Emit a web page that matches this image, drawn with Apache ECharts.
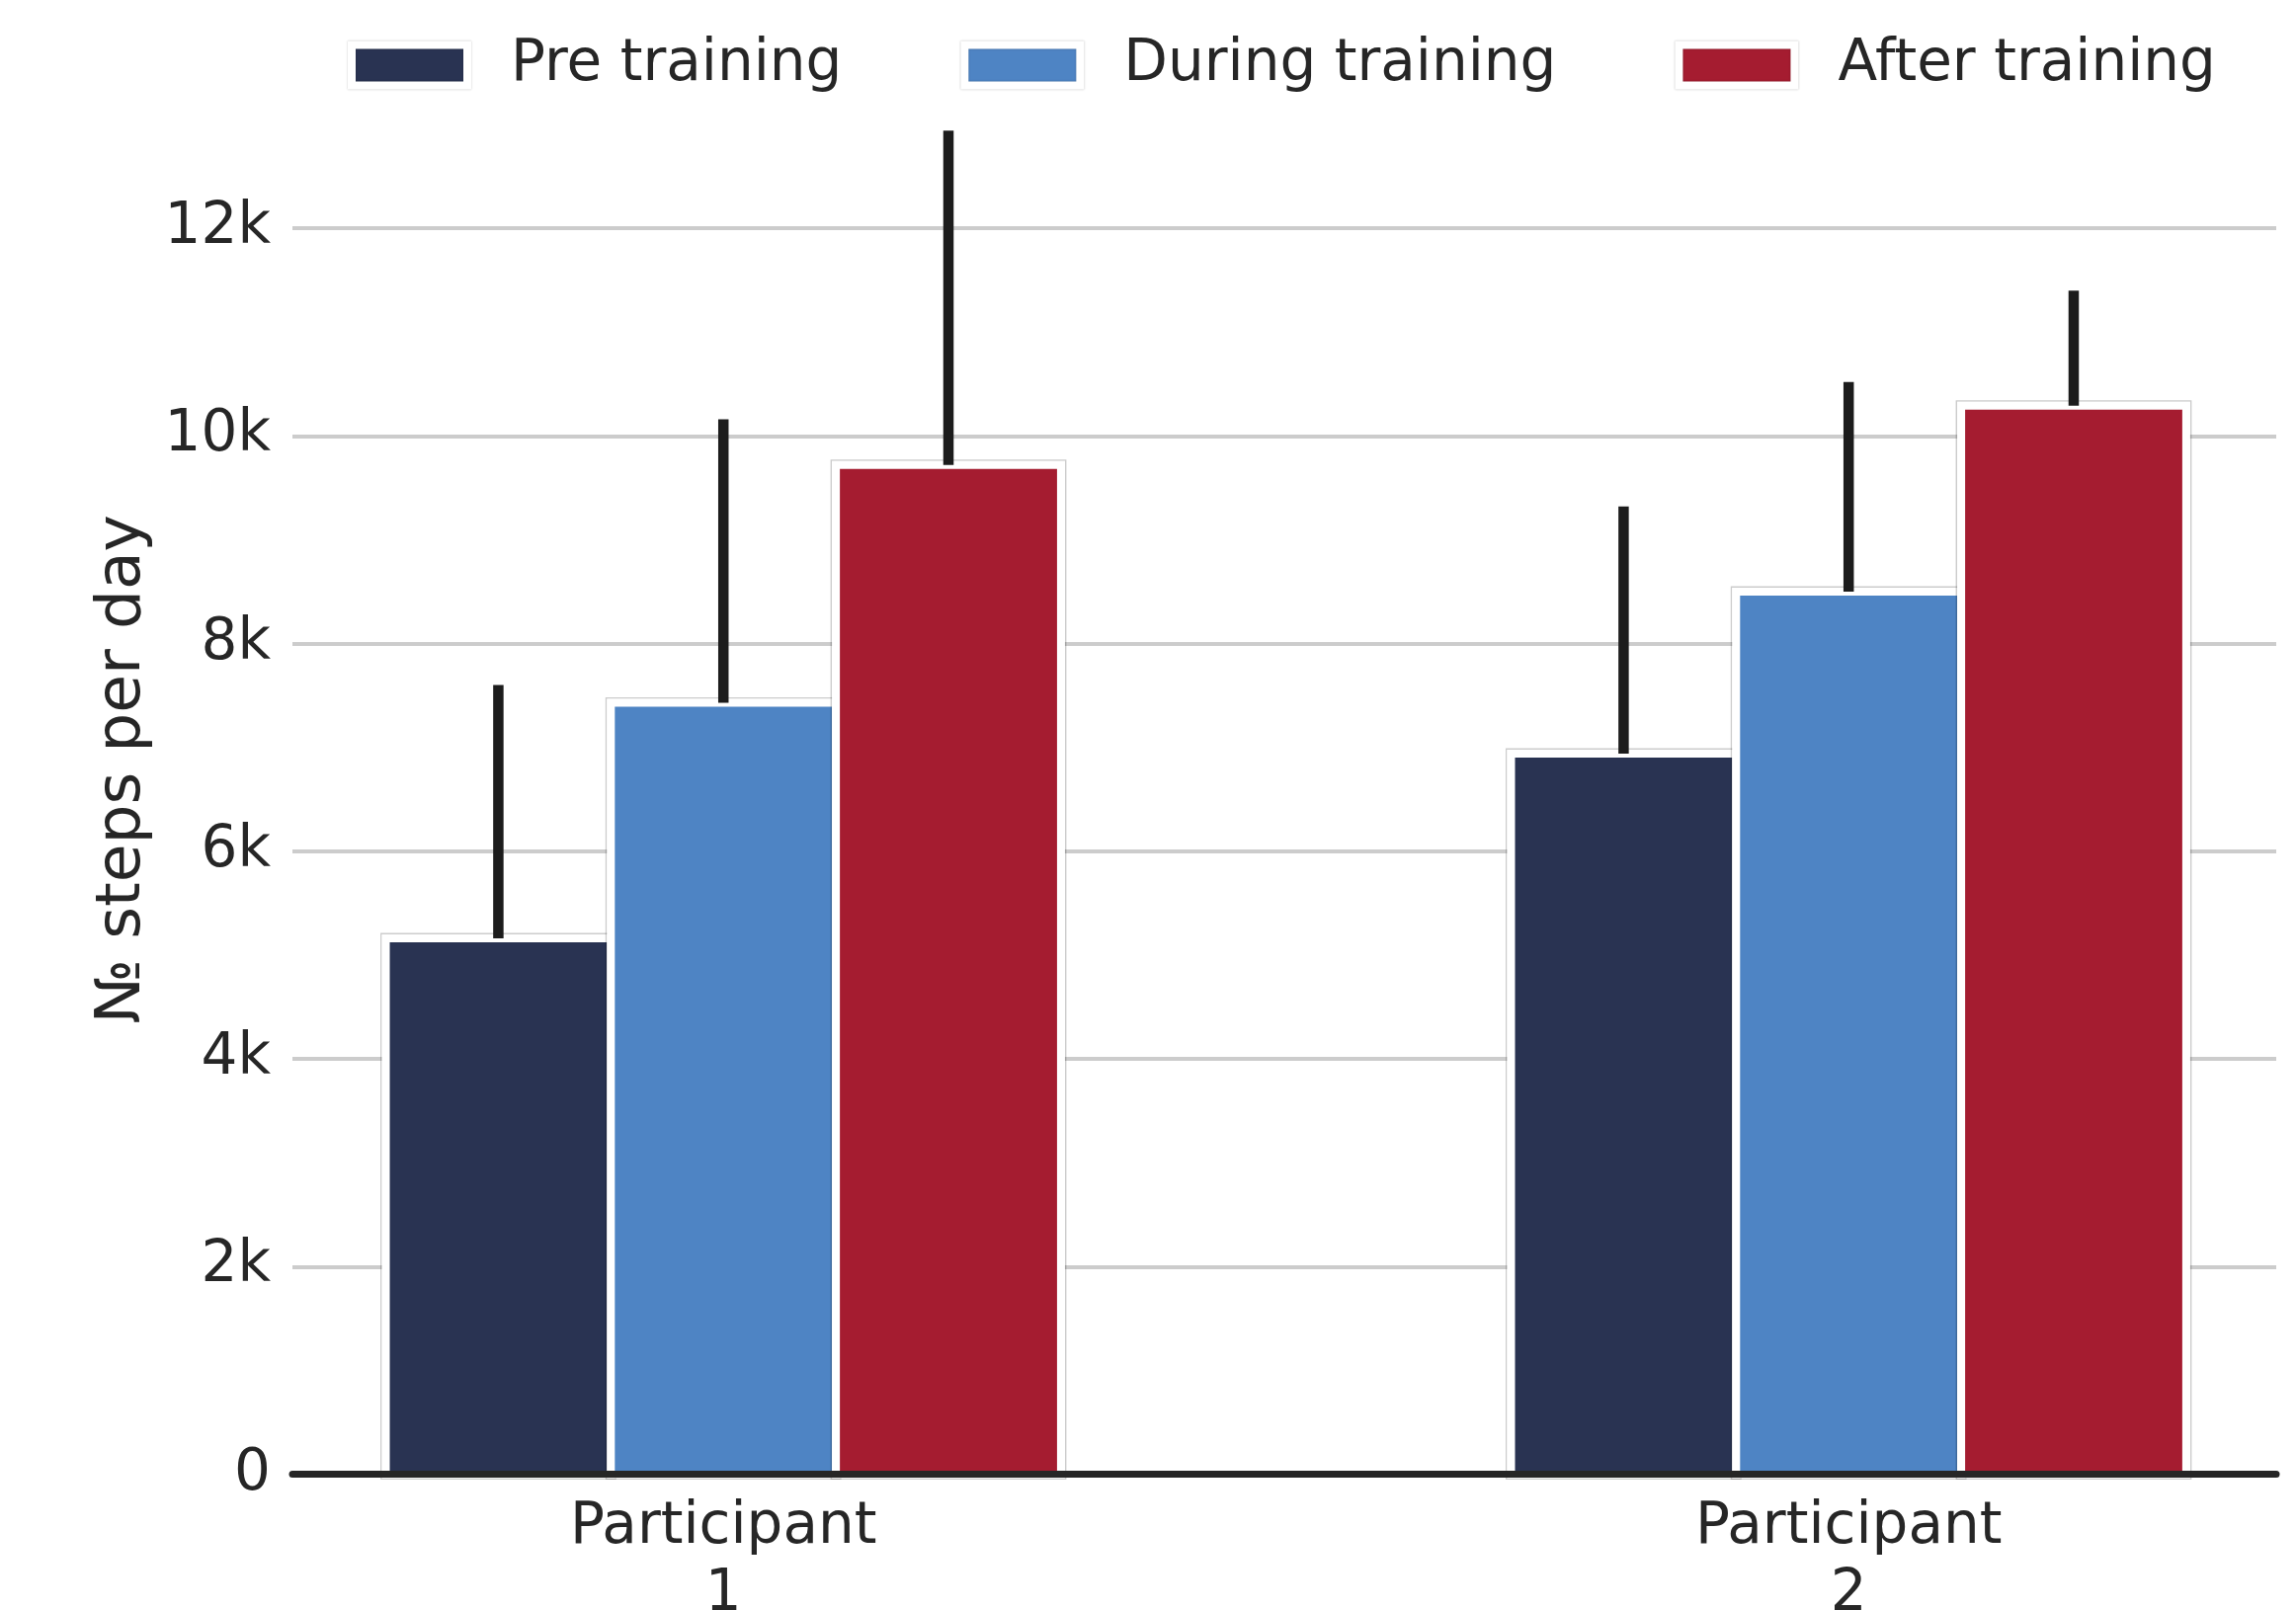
<!DOCTYPE html>
<html>
<head>
<meta charset="utf-8">
<title>Steps per day</title>
<script src="https://cdn.jsdelivr.net/npm/echarts@6/dist/echarts.min.js"></script>
<style>
  html, body { margin: 0; padding: 0; background: #ffffff; }
  #chart { width: 2324px; height: 1630px; }
</style>
</head>
<body>
<div id="chart"></div>
<script>
// Participants on the x axis (positions 0 and 1)
const participants = ['Participant\n1', 'Participant\n2'];
const phases = ['Pre training', 'During training', 'After training'];

// Mean steps per day for each phase
const preMean = [5160, 6940];
const duringMean = [7430, 8500];
const afterMean = [9720, 10290];

// Upper end of each error bar
const preUpper = [7600, 9320];
const duringUpper = [10160, 10520];
const afterUpper = [12940, 11400];

// y axis ticks and upper limit
const yTicks = [0, 2000, 4000, 6000, 8000, 10000, 12000];
const yMax = 13580;

const colors = ['#293352', '#4e84c4', '#a51c30'];
const means = [preMean, duringMean, afterMean];
const uppers = [preUpper, duringUpper, afterUpper];

const FONT = 'DejaVu Sans';
const TEXT = '#262626';
const BAR_FRACTION = 0.2; // share of one participant slot taken by each bar
const EDGE = 4;           // half width of the white edge around each bar

const chart = echarts.init(document.getElementById('chart'), null, { renderer: 'canvas' });

// Bars: colored fill framed by a white edge and a faint grey outline.
// Later phases are drawn over earlier ones, so neighbours share one white gap.
const barSeries = phases.map((name, i) => ({
  name: name,
  type: 'custom',
  z: 2,
  itemStyle: { color: colors[i] },
  emphasis: { disabled: true },
  data: participants.map((p, j) => [j, means[i][j]]),
  renderItem: function (params, api) {
    const x = api.value(0) + (i - 1) * BAR_FRACTION;
    const topLeft = api.coord([x - BAR_FRACTION / 2, api.value(1)]);
    const botRight = api.coord([x + BAR_FRACTION / 2, 0]);
    const x0 = topLeft[0], y0 = topLeft[1];
    const w = botRight[0] - x0, h = botRight[1] - y0;
    return {
      type: 'group',
      children: [
        {
          type: 'rect',
          shape: { x: x0 - EDGE - 0.75, y: y0 - EDGE - 0.75, width: w + 2 * EDGE + 1.5, height: h + 2 * EDGE + 1.5 },
          style: { fill: null, stroke: 'rgba(0,0,0,0.2)', lineWidth: 1.5 }
        },
        {
          type: 'rect',
          shape: { x: x0 - EDGE, y: y0 - EDGE, width: w + 2 * EDGE, height: h + 2 * EDGE },
          style: { fill: '#ffffff' }
        },
        {
          type: 'rect',
          shape: { x: x0 + EDGE, y: y0 + EDGE, width: w - 2 * EDGE, height: h - EDGE },
          style: { fill: colors[i] }
        }
      ]
    };
  }
}));

// Error bars: one vertical segment per bar, from the mean up to the upper value
const errorData = [];
phases.forEach((name, i) => {
  participants.forEach((p, j) => {
    errorData.push([j, means[i][j], uppers[i][j], i]);
  });
});

const errorSeries = {
  name: 'error',
  type: 'custom',
  z: 4,
  silent: true,
  data: errorData,
  renderItem: function (params, api) {
    const slot = api.value(3);
    const x = api.value(0) + (slot - 1) * BAR_FRACTION;
    const p0 = api.coord([x, api.value(1)]);
    const p1 = api.coord([x, api.value(2)]);
    return {
      type: 'line',
      shape: { x1: p0[0], y1: p0[1], x2: p1[0], y2: p1[1] },
      style: { stroke: '#1c1c1c', lineWidth: 10.5, lineCap: 'butt' }
    };
  }
};

const option = {
  backgroundColor: '#ffffff',
  animation: false,
  textStyle: { fontFamily: FONT },
  legend: {
    data: phases,
    left: 352,
    top: 37,
    padding: 0,
    itemGap: 120,
    itemWidth: 117,
    itemHeight: 41,
    icon: 'rect',
    itemStyle: {
      borderColor: '#ffffff',
      borderWidth: 8,
      shadowColor: 'rgba(0,0,0,0.28)',
      shadowBlur: 2
    },
    textStyle: {
      fontFamily: FONT,
      fontSize: 58,
      color: TEXT,
      padding: [0, 0, 0, 39]
    }
  },
  grid: {
    left: 296,
    right: 20,
    top: 65,
    bottom: 137.5,
    containLabel: false,
    outerBoundsMode: 'none'
  },
  xAxis: {
    type: 'value',
    min: -0.383,
    max: 1.38,
    z: 6,
    splitLine: { show: false },
    axisTick: { show: false },
    axisLine: { show: true, lineStyle: { color: TEXT, width: 7 } },
    axisLabel: {
      customValues: participants.map((p, j) => j),
      formatter: v => participants[Math.round(v)],
      fontFamily: FONT,
      fontSize: 58,
      lineHeight: 68,
      color: TEXT,
      margin: 20
    }
  },
  yAxis: {
    type: 'value',
    min: 0,
    max: yMax,
    interval: yTicks[1] - yTicks[0],
    name: '№ steps per day',
    nameLocation: 'middle',
    nameGap: 140,
    nameRotate: 90,
    nameTextStyle: { fontFamily: FONT, fontSize: 63, color: TEXT },
    axisLine: { show: false },
    axisTick: { show: false },
    splitLine: {
      show: true,
      showMinLine: false,
      showMaxLine: false,
      lineStyle: { color: '#cccccc', width: 4 }
    },
    axisLabel: {
      showMaxLabel: false,
      fontFamily: FONT,
      fontSize: 58,
      color: TEXT,
      margin: 22,
      formatter: v => (v === 0 ? '0' : (v / 1000) + 'k')
    }
  },
  series: barSeries.concat([errorSeries])
};

chart.setOption(option);
</script>
</body>
</html>
